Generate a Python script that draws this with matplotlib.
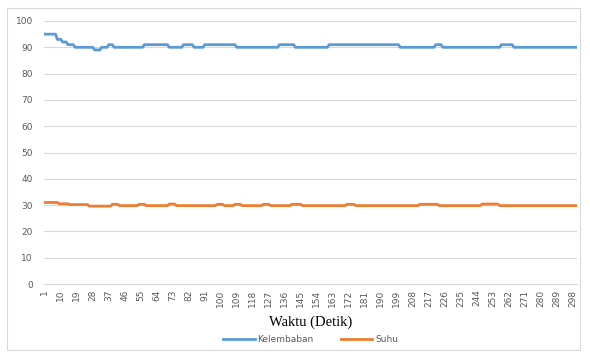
import numpy as np
import matplotlib.pyplot as plt

# readings, stored as (value, number of seconds held)
kelembaban_val = [95, 93, 92, 91, 90, 89, 90, 91, 90, 91, 90, 91, 90, 91, 90, 91,
                  90, 91, 90, 91, 90, 91, 90]
kelembaban_len = [7, 3, 3, 4, 11, 4, 4, 3, 17, 14, 8, 6, 6, 18, 24, 9,
                  19, 40, 20, 4, 33, 7, 36]
suhu_val = [31.0, 30.5, 30.2, 29.6, 30.3, 29.8, 30.3, 29.8, 30.4, 29.8, 30.3, 29.8,
            30.3, 29.8, 30.3, 29.8, 30.3, 29.8, 30.3, 29.8, 30.3, 29.8, 30.4, 29.8]
suhu_len = [8, 6, 11, 13, 4, 11, 4, 13, 4, 23, 4, 6,
            4, 12, 4, 12, 6, 25, 5, 36, 11, 24, 10, 44]

kelembaban = np.repeat(kelembaban_val, kelembaban_len)
suhu = np.repeat(suhu_val, suhu_len)
detik = np.arange(1, len(suhu) + 1)

fig = plt.figure(figsize=(5.9, 3.52), dpi=100)
ax = fig.add_axes([44/590, 68/352, 533/590, 263/352])

ax.plot(detik, kelembaban, color='#5B9BD5', lw=2.0, label='Kelembaban', solid_joinstyle='round')
ax.plot(detik, suhu, color='#ED7D31', lw=2.0, label='Suhu', solid_joinstyle='round')

ax.set_xlim(0.5, len(detik) + 0.5)
ax.set_ylim(0, 100)
ax.set_yticks(range(0, 101, 10))
ax.set_xticks(detik[::9])
ax.set_xticklabels([str(d) for d in detik[::9]], rotation=90)
ax.tick_params(axis='both', length=0, labelsize=6.5, labelcolor='#595959')
ax.tick_params(axis='y', pad=8)
ax.tick_params(axis='x', pad=4)
ax.grid(axis='y', color='#D9D9D9', lw=0.8)
ax.set_axisbelow(True)
for side in ['top', 'right', 'left']:
    ax.spines[side].set_visible(False)
ax.spines['bottom'].set_color('#D9D9D9')

ax.set_xlabel('Waktu (Detik)', family='Liberation Serif', fontsize=10.5, labelpad=6)
ax.legend(loc='upper center', bbox_to_anchor=(0.5, -0.17), ncol=2, frameon=False,
          fontsize=6.5, labelcolor='#595959', handlelength=3.5, columnspacing=3,
          handletextpad=0.3, borderpad=0.2)

# chart border
fig.patches.append(plt.Rectangle((7/590, 2/352), 573/590, 342/352, transform=fig.transFigure,
                                 fill=False, edgecolor='#D9D9D9', lw=0.8))

plt.savefig('out.png', dpi=100)
